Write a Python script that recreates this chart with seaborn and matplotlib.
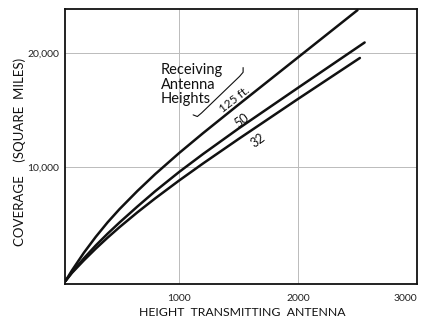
import numpy as np
import pandas as pd
import matplotlib
matplotlib.use("Agg")
import matplotlib.pyplot as plt
import seaborn as sns

# Data
x_125 = [45, 100, 200, 300, 400, 500, 650, 800, 1000, 1200, 1500, 2000, 2500]
y_125 = [0, 935, 2485, 3885, 5165, 6325, 7915, 9400, 11240, 12980, 15500, 19650, 23800]
x_50 = [45, 100, 200, 300, 400, 500, 650, 800, 1000, 1200, 1500, 2000, 2560]
y_50 = [0, 770, 2000, 3130, 4170, 5150, 6550, 7900, 9580, 11150, 13400, 16980, 20960]
x_32 = [45, 100, 200, 300, 400, 500, 650, 800, 1000, 1200, 1500, 2000, 2520]
y_32 = [0, 720, 1820, 2850, 3820, 4740, 6040, 7270, 8830, 10320, 12480, 16000, 19600]
series_names = ["125 ft.", "50", "32"]
x_ticks = [1000, 2000, 3000]
x_tick_labels = ["1000", "2000", "3000"]
y_ticks = [10000, 20000]
y_tick_labels = ["10,000", "20,000"]

frames = []
for name, xs, ys in zip(series_names, [x_125, x_50, x_32], [y_125, y_50, y_32]):
    frames.append(pd.DataFrame({"height": xs, "coverage": ys, "series": name}))
df = pd.concat(frames, ignore_index=True)

sns.set_style("white")
plt.rcParams["font.family"] = ["Lato", "DejaVu Sans"]

fig = plt.figure(figsize=(4.22, 3.22), dpi=100)
ax = fig.add_axes([65 / 422, 1 - 284 / 322, 352 / 422, 275 / 322])

sns.lineplot(data=df, x="height", y="coverage", hue="series", units="series",
             estimator=None, palette=["#111111"] * 3, linewidth=1.8,
             legend=False, ax=ax, sort=True)
for ln in ax.lines:
    ln.set_solid_joinstyle("round")
    ln.set_solid_capstyle("round")

ax.set_xlim(42, 3000)
ax.set_ylim(-250, 23900)
ax.set_xticks(x_ticks)
ax.set_xticklabels(x_tick_labels, fontsize=7.5)
ax.get_xticklabels()[-1].set_horizontalalignment("right")
ax.set_yticks(y_ticks)
ax.set_yticklabels(y_tick_labels, fontsize=7.5)
ax.grid(True, color="#bbbbbb", linewidth=0.7)
ax.tick_params(axis="both", length=3, width=0.7, color="#999999", labelcolor="#222222")
ax.tick_params(axis="x", pad=4)
ax.tick_params(axis="y", pad=1)
for s in ax.spines.values():
    s.set_color("#111111")
    s.set_linewidth(1.3)

ax.set_xlabel("HEIGHT  TRANSMITTING  ANTENNA", fontsize=8.8, color="#111111")
ax.set_ylabel("COVERAGE    (SQUARE  MILES)", fontsize=9.5, color="#111111")
ax.xaxis.set_label_coords(0.503, -0.085)
ax.yaxis.set_label_coords(-0.112, 0.48)

# Annotations
ax.text(0.273, 0.805, "Receiving\nAntenna\nHeights", transform=ax.transAxes,
        fontsize=10.5, va="top", ha="left", linespacing=1.08, color="#111111")
ax.text(1470, 15950, "125 ft.", rotation=38, fontsize=8.5, ha="center", va="center", color="#111111")
ax.text(1525, 14120, "50", rotation=36, fontsize=9, ha="center", va="center", color="#111111")
ax.text(1667, 12370, "32", rotation=36, fontsize=9, ha="center", va="center", color="#111111")

# bracket decoration
bx = [0.364, 0.376, 0.388, 0.496, 0.506, 0.506]
by = [0.615, 0.609, 0.622, 0.755, 0.770, 0.787]
ax.plot(bx, by, transform=ax.transAxes, color="#111111", linewidth=0.8)

fig.savefig("out.png", dpi=100)
